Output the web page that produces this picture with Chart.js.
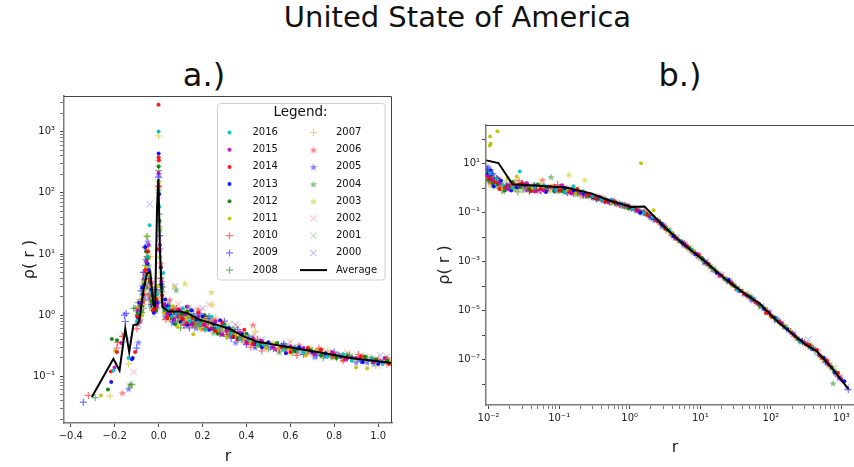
<!DOCTYPE html>
<html>
<head>
<meta charset="utf-8">
<script src="https://cdn.jsdelivr.net/npm/chart.js@4.4.1/dist/chart.umd.min.js"></script>
<style>
  html, body { margin: 0; padding: 0; overflow: hidden; background: #fff; }
  body { width: 854px; height: 467px; position: relative; font-family: 'DejaVu Sans', sans-serif; color: #111; }
  .lbl { position: absolute; white-space: nowrap; transform: translateX(-50%); }
  #title { left: 457.5px; top: 3px; font-size: 29px; line-height: 29px; }
  .sub { top: 59px; font-size: 32px; line-height: 32px; }
  .wrap { position: absolute; top: 0; }
</style>
</head>
<body>
<div id="title" class="lbl">United State of America</div>
<div class="lbl sub" style="left:204px">a.)</div>
<div class="lbl sub" style="left:680px">b.)</div>
<div class="wrap" style="left:0"><canvas id="chartA" width="430" height="467"></canvas></div>
<div class="wrap" style="left:430px"><canvas id="chartB" width="440" height="467"></canvas></div>
<script>
// ---- data: [r, rho(r)] ----
const years = ['2016', '2015', '2014', '2013', '2012', '2011', '2010', '2009', '2008',
               '2007', '2006', '2005', '2004', '2003', '2002', '2001', '2000'];

// a.) linear r
const left2016 = [[-0.205,0.125],[-0.137,0.2],[-0.097,0.8],[-0.085,1.1],[-0.072,1.9],[-0.062,4.2],[-0.05,9],[-0.041,29.5],[-0.03,2.4],[-0.022,1.6],[-0.006,2.2],[0.0,1000],[0.003,60],[0.015,2.5],[0.022,4.9],[0.035,1.2],[0.045,1.3],[0.06,0.95],[0.08,1.1],[0.11,1.3],[0.14,0.8],[0.165,0.95],[0.19,0.72],[0.215,0.58],[0.24,0.95],[0.27,0.62],[0.3,0.66],[0.33,0.5],[0.37,0.41],[0.41,0.4],[0.45,0.33],[0.48,0.33],[0.57,0.27],[0.62,0.3],[0.66,0.25],[0.77,0.21],[0.84,0.23],[0.88,0.18],[0.97,0.2],[1.02,0.16]];
const left2015 = [[-0.201,0.14],[-0.17,0.35],[-0.094,1.2],[-0.078,1.6],[-0.067,4],[-0.055,7.5],[-0.045,14],[-0.036,3.3],[-0.027,2.1],[-0.018,1.5],[-0.008,1.4],[0.0,210],[0.006,14],[0.013,3.5],[0.028,1.5],[0.04,1.05],[0.07,0.85],[0.095,1.2],[0.12,1.05],[0.128,1.38],[0.15,0.72],[0.18,0.95],[0.21,0.7],[0.24,0.6],[0.26,0.8],[0.29,0.48],[0.31,0.55],[0.37,0.52],[0.4,0.36],[0.43,0.42],[0.47,0.38],[0.52,0.3],[0.6,0.31],[0.66,0.29],[0.71,0.23],[0.79,0.25],[0.85,0.19],[0.9,0.2],[0.98,0.17],[1.03,0.2]];
const left2014 = [[-0.217,0.12],[-0.19,0.25],[-0.107,0.25],[-0.098,0.95],[-0.07,2.2],[-0.06,5.5],[-0.048,11],[-0.04,3.8],[-0.027,1.2],[-0.018,1.3],[-0.01,1.8],[-0.004,12],[-0.0005,2760],[0.0,380],[0.001,340],[0.009,6],[0.016,2.1],[0.04,0.9],[0.06,1.2],[0.09,1.25],[0.11,0.85],[0.13,0.75],[0.155,0.9],[0.18,1.1],[0.2,0.7],[0.22,0.62],[0.26,0.55],[0.29,0.75],[0.31,0.6],[0.34,0.45],[0.36,0.4],[0.39,0.58],[0.43,0.34],[0.47,0.36],[0.56,0.3],[0.6,0.25],[0.68,0.29],[0.74,0.27],[0.8,0.23],[0.86,0.2],[0.92,0.21],[0.97,0.19],[1.05,0.16]];
const left2013 = [[-0.216,0.081],[-0.122,0.19],[-0.118,0.2],[-0.093,0.9],[-0.088,1.6],[-0.074,2.8],[-0.061,13],[-0.052,7],[-0.044,5.5],[-0.034,2.6],[-0.022,1.1],[-0.007,1.6],[0.0,440],[0.002,95],[0.01,6],[0.012,3.2],[0.03,1.8],[0.04,1.4],[0.055,1.0],[0.075,1.1],[0.1,0.78],[0.13,0.7],[0.15,1.2],[0.175,0.85],[0.2,0.95],[0.23,0.58],[0.25,0.72],[0.28,0.83],[0.32,0.62],[0.34,0.44],[0.38,0.5],[0.44,0.34],[0.47,0.3],[0.5,0.36],[0.58,0.24],[0.64,0.3],[0.7,0.25],[0.76,0.24],[0.83,0.21],[0.88,0.2],[0.93,0.17],[1.0,0.16]];
const left2012 = [[-0.231,0.061],[-0.213,0.41],[-0.19,0.39],[-0.096,1.1],[-0.082,1.4],[-0.072,2.2],[-0.066,3.2],[-0.057,11],[-0.05,8.5],[-0.04,3.5],[-0.033,1.7],[-0.012,1.2],[0.0,270],[0.004,35],[0.014,2.8],[0.03,1.2],[0.045,1.35],[0.06,0.9],[0.075,0.72],[0.105,1.05],[0.13,1.15],[0.155,0.7],[0.17,0.85],[0.19,0.78],[0.21,1.0],[0.25,0.6],[0.27,0.5],[0.3,0.7],[0.33,0.55],[0.36,0.42],[0.4,0.5],[0.43,0.35],[0.46,0.33],[0.54,0.35],[0.58,0.3],[0.62,0.26],[0.69,0.27],[0.74,0.22],[0.81,0.2],[0.94,0.21],[0.99,0.19],[1.04,0.18]];
const left2011 = [[-0.263,0.049],[-0.198,0.26],[-0.092,1.3],[-0.075,1.0],[-0.066,2.6],[-0.058,6],[-0.048,4.5],[-0.04,2.8],[-0.03,1.9],[-0.015,1.3],[-0.005,3],[0.0,150],[0.007,9],[0.015,1.8],[0.025,1.1],[0.045,0.95],[0.065,1.4],[0.085,0.65],[0.1,1.15],[0.125,0.9],[0.14,1.0],[0.158,0.49],[0.19,0.6],[0.215,0.82],[0.24,0.7],[0.27,0.55],[0.31,0.44],[0.35,0.48],[0.39,0.43],[0.42,0.38],[0.45,0.31],[0.49,0.29],[0.55,0.3],[0.59,0.29],[0.67,0.22],[0.72,0.27],[0.78,0.23],[0.84,0.2],[0.9,0.14],[0.95,0.136],[1.03,0.19]];
const left2010 = [[-0.32,0.049],[-0.19,0.29],[-0.187,0.36],[-0.165,0.45],[-0.099,0.6],[-0.09,0.75],[-0.078,1.4],[-0.068,1.8],[-0.059,4.5],[-0.052,9],[-0.036,2.8],[-0.028,2.0],[-0.013,1.5],[0.0,125],[0.008,4],[0.012,2.4],[0.033,0.85],[0.05,1.1],[0.08,1.3],[0.1,0.95],[0.115,0.68],[0.14,1.15],[0.16,0.75],[0.195,0.78],[0.21,0.95],[0.24,0.7],[0.27,0.58],[0.31,0.48],[0.34,0.52],[0.38,0.4],[0.4,0.35],[0.42,0.3],[0.45,0.4],[0.47,0.26],[0.55,0.27],[0.6,0.28],[0.63,0.22],[0.73,0.29],[0.79,0.21],[0.84,0.18],[0.91,0.23],[1.0,0.19],[1.04,0.16]];
const left2009 = [[-0.343,0.038],[-0.152,0.79],[-0.148,1.07],[-0.156,1.0],[-0.1,0.29],[-0.091,1.0],[-0.08,2.5],[-0.07,5],[-0.061,13],[-0.052,3],[-0.043,4],[-0.033,1.5],[-0.024,1.4],[-0.009,2.6],[0.0,180],[0.005,20],[0.018,1.6],[0.035,1.15],[0.05,1.4],[0.065,0.8],[0.085,0.9],[0.105,1.1],[0.12,0.7],[0.14,0.62],[0.16,1.05],[0.19,0.72],[0.225,0.88],[0.25,0.62],[0.28,0.5],[0.3,0.8],[0.33,0.42],[0.36,0.58],[0.4,0.33],[0.44,0.32],[0.51,0.3],[0.57,0.34],[0.62,0.27],[0.66,0.23],[0.72,0.22],[0.8,0.25],[0.86,0.2],[0.92,0.18],[0.97,0.18],[1.02,0.17]];
const left2008 = [[-0.289,0.045],[-0.122,0.074],[-0.114,1.3],[-0.107,1.3],[-0.094,1.6],[-0.077,1.1],[-0.069,1.3],[-0.06,6.5],[-0.053,19.5],[-0.046,3.8],[-0.036,2.2],[-0.02,2.6],[-0.008,1.3],[0.0,230],[0.003,45],[0.011,3.2],[0.025,1.4],[0.038,1.1],[0.055,0.95],[0.07,1.25],[0.1,0.62],[0.12,1.0],[0.145,0.9],[0.165,0.8],[0.185,0.66],[0.21,0.6],[0.23,0.95],[0.26,0.68],[0.29,0.62],[0.31,0.45],[0.34,0.5],[0.38,0.46],[0.43,0.42],[0.5,0.28],[0.56,0.32],[0.61,0.25],[0.65,0.27],[0.7,0.26],[0.75,0.2],[0.81,0.2],[0.87,0.22],[0.95,0.2],[1.05,0.17]];
const left2007 = [[-0.221,0.048],[-0.137,0.16],[-0.095,0.9],[-0.086,1.8],[-0.072,2.5],[-0.057,3.5],[-0.049,13],[-0.038,9],[-0.031,1.6],[-0.025,1.2],[-0.01,1.9],[0.0,850],[0.004,28],[0.013,2.2],[0.03,1.3],[0.042,1.0],[0.065,1.05],[0.09,0.8],[0.11,0.75],[0.13,1.2],[0.15,0.95],[0.17,0.68],[0.2,0.85],[0.22,0.72],[0.26,0.9],[0.28,0.58],[0.32,0.52],[0.35,0.45],[0.39,0.44],[0.44,0.55],[0.47,0.32],[0.53,0.33],[0.57,0.31],[0.61,0.28],[0.7,0.24],[0.77,0.26],[0.83,0.22],[0.88,0.21],[0.99,0.17],[1.05,0.18]];
const left2006 = [[-0.165,0.054],[-0.097,1.3],[-0.083,0.85],[-0.07,1.7],[-0.064,5],[-0.056,12],[-0.047,2.2],[-0.037,2.9],[-0.032,3.5],[-0.014,1.6],[0.0,130],[0.01,7],[0.017,1.9],[0.03,1.1],[0.05,1.8],[0.07,0.9],[0.095,1.0],[0.12,1.1],[0.14,0.72],[0.16,0.68],[0.18,1.25],[0.2,0.6],[0.22,0.8],[0.25,0.85],[0.29,0.52],[0.33,0.55],[0.35,0.5],[0.37,0.45],[0.41,0.37],[0.43,0.7],[0.48,0.31],[0.53,0.29],[0.58,0.27],[0.64,0.33],[0.69,0.25],[0.74,0.28],[0.84,0.19],[0.93,0.22],[0.98,0.19],[1.04,0.2]];
const left2005 = [[-0.137,0.063],[-0.092,0.36],[-0.089,0.8],[-0.074,3],[-0.067,2.1],[-0.059,8],[-0.05,16],[-0.042,1.9],[-0.031,2.4],[-0.016,1.2],[-0.006,1.7],[0.0,200],[0.006,12],[0.015,2.9],[0.03,0.95],[0.045,1.2],[0.065,0.75],[0.085,1.05],[0.11,0.9],[0.13,1.0],[0.15,0.78],[0.17,0.62],[0.19,1.05],[0.22,0.75],[0.24,0.62],[0.27,0.55],[0.29,0.7],[0.32,0.48],[0.35,0.36],[0.41,0.45],[0.44,0.3],[0.46,0.38],[0.53,0.28],[0.57,0.33],[0.62,0.3],[0.71,0.21],[0.76,0.22],[0.82,0.23],[0.9,0.17],[0.95,0.17],[1.01,0.18]];
const left2004 = [[-0.13,0.074],[-0.092,1.0],[-0.079,1.2],[-0.07,3.8],[-0.063,2.8],[-0.054,9],[-0.045,6.5],[-0.036,1.4],[-0.029,1.6],[-0.011,2.0],[0.0,110],[0.005,25],[0.012,4],[0.025,1.3],[0.04,1.5],[0.06,1.0],[0.08,2.6],[0.09,0.78],[0.105,0.85],[0.135,1.4],[0.15,1.0],[0.175,0.72],[0.2,0.85],[0.235,0.8],[0.25,0.52],[0.27,0.6],[0.31,0.62],[0.34,0.62],[0.37,0.42],[0.4,0.38],[0.45,0.35],[0.49,0.34],[0.55,0.25],[0.63,0.26],[0.67,0.24],[0.72,0.25],[0.79,0.21],[0.86,0.23],[0.92,0.19],[0.98,0.16]];
const left2003 = [[-0.128,0.07],[-0.087,1.1],[-0.072,1.5],[-0.065,3.5],[-0.053,19.5],[-0.047,7],[-0.04,4.5],[-0.03,1.8],[-0.022,2.3],[-0.007,2.5],[0.0,160],[0.008,5],[0.014,1.7],[0.035,1.15],[0.05,0.85],[0.07,3.0],[0.085,1.0],[0.1,1.1],[0.12,3.3],[0.14,0.8],[0.165,0.95],[0.19,0.9],[0.21,0.66],[0.24,2.4],[0.245,1.5],[0.26,0.56],[0.3,0.72],[0.33,0.46],[0.38,0.52],[0.43,0.38],[0.47,0.34],[0.52,0.36],[0.6,0.24],[0.69,0.3],[0.75,0.23],[0.8,0.22],[0.85,0.22],[0.89,0.19],[0.97,0.21],[1.03,0.18]];
const left2002 = [[-0.18,0.35],[-0.114,0.117],[-0.09,1.5],[-0.088,1.0],[-0.073,3],[-0.06,3.0],[-0.051,5.5],[-0.035,1.8],[-0.03,1.4],[-0.012,1.2],[-0.006,1.8],[0.0,90],[0.004,18],[0.017,2.6],[0.03,0.95],[0.05,1.0],[0.07,1.3],[0.09,1.5],[0.11,0.9],[0.13,0.65],[0.16,0.75],[0.19,1.15],[0.21,0.62],[0.23,1.5],[0.25,0.85],[0.28,0.78],[0.31,0.6],[0.33,0.5],[0.36,0.65],[0.4,0.42],[0.44,0.48],[0.48,0.29],[0.56,0.3],[0.6,0.37],[0.68,0.24],[0.72,0.25],[0.77,0.25],[0.86,0.24],[0.95,0.2],[1.0,0.15],[1.05,0.19]];
const left2001 = [[-0.16,0.5],[-0.095,0.9],[-0.077,2.0],[-0.068,1.6],[-0.056,4.8],[-0.048,10],[-0.039,2.5],[-0.028,2.2],[-0.019,1.0],[-0.009,1.4],[0.0,300],[0.006,8],[0.011,2.4],[0.035,1.25],[0.045,1.3],[0.06,1.15],[0.08,0.95],[0.1,0.85],[0.12,0.8],[0.14,1.05],[0.155,1.25],[0.18,0.68],[0.205,0.75],[0.23,0.62],[0.26,0.7],[0.29,0.5],[0.32,0.7],[0.34,0.55],[0.37,0.38],[0.42,0.45],[0.47,0.37],[0.5,0.33],[0.59,0.33],[0.63,0.27],[0.67,0.29],[0.75,0.23],[0.8,0.22],[0.85,0.2],[0.94,0.19],[1.04,0.21]];
const left2000 = [[-0.14,0.4],[-0.093,0.7],[-0.084,1.3],[-0.072,2.0],[-0.065,2.5],[-0.055,5],[-0.041,65],[-0.033,2.0],[-0.026,1.7],[-0.013,1.3],[0.0,140],[0.003,30],[0.016,3.2],[0.03,1.4],[0.045,1.6],[0.06,1.0],[0.075,3.0],[0.11,1.2],[0.13,0.85],[0.16,0.9],[0.18,0.72],[0.2,1.3],[0.22,0.95],[0.25,0.65],[0.27,0.6],[0.3,0.56],[0.32,0.5],[0.35,0.7],[0.39,0.4],[0.43,0.36],[0.47,0.4],[0.52,0.31],[0.57,0.29],[0.64,0.25],[0.69,0.27],[0.73,0.26],[0.83,0.22],[0.87,0.21],[0.92,0.2],[1.01,0.22]];
const leftAverage = [[-0.304,0.046],[-0.206,0.194],[-0.178,0.125],[-0.152,0.61],[-0.134,0.25],[-0.115,0.69],[-0.096,0.71],[-0.087,0.84],[-0.069,2.6],[-0.053,4.8],[-0.038,5.1],[-0.024,1.5],[-0.016,1.4],[-0.007,60],[-0.001,170],[0.006,11.6],[0.017,1.38],[0.045,1.15],[0.098,1.15],[0.129,1.08],[0.19,0.84],[0.281,0.67],[0.327,0.59],[0.387,0.45],[0.448,0.37],[0.569,0.31],[0.722,0.25],[0.874,0.2],[1.063,0.165]];

// b.) log r
const right2016 = [[0.0105,4.2],[0.013,2.3],[0.016,1.3],[0.022,1.0],[0.0277,4.8],[0.045,1.1],[0.06,1.3],[0.09,0.85],[0.12,0.7],[0.16,1.2],[0.22,0.75],[0.3,0.48],[0.4,0.35],[0.55,0.3],[0.75,0.22],[1.1,0.14],[1.6,0.1],[2.1,0.065],[3.6,0.019],[5,0.0075],[7.5,0.0029],[11,0.0011],[15,0.0005],[23,0.00019],[34,7e-5],[55,3.2e-5],[75,1.5e-5],[120,4.5e-6],[160,2.0e-6],[260,5.5e-7],[380,3.0e-7],[800,3.5e-8]];
const right2015 = [[0.0098,3.2],[0.0112,2.2],[0.014,1.6],[0.019,0.9],[0.026,1.3],[0.035,1.6],[0.045,0.75],[0.06,0.8],[0.085,1.05],[0.11,1.3],[0.15,0.6],[0.2,0.65],[0.28,0.55],[0.37,0.45],[0.5,0.26],[0.7,0.22],[0.95,0.19],[1.3,0.12],[1.9,0.07],[2.5,0.045],[4.5,0.009],[6.2,0.0045],[9,0.0021],[13,0.0008],[19,0.00028],[28,0.00012],[45,4.2e-5],[65,2e-5],[95,8e-6],[140,3e-6],[210,1.1e-6],[320,4.2e-7],[480,1.6e-7],[650,6.5e-8],[1000,1.5e-8]];
const right2014 = [[0.0102,2.6],[0.0125,1.8],[0.0142,0.93],[0.017,1.1],[0.022,1.5],[0.03,1.6],[0.04,0.75],[0.055,0.95],[0.075,1.15],[0.1,0.8],[0.14,0.7],[0.18,0.9],[0.25,0.55],[0.33,0.42],[0.45,0.28],[0.6,0.27],[0.9,0.2],[1.25,0.13],[1.7,0.09],[2.4,0.05],[3.2,0.022],[4.8,0.008],[6.5,0.0042],[9.5,0.0019],[13,0.0008],[20,0.00027],[28,0.00013],[42,5e-5],[62,2.2e-5],[85,8e-6],[100,6e-6],[130,3.5e-6],[220,9e-7],[355,4e-7],[450,2.5e-7],[530,1.2e-7],[620,9e-8],[890,2.9e-8]];
const right2013 = [[0.0098,3.5],[0.0107,5],[0.0118,1.2],[0.015,2.0],[0.021,0.8],[0.025,1.1],[0.033,1.3],[0.045,1.2],[0.065,0.7],[0.09,0.9],[0.12,1.0],[0.16,0.8],[0.22,0.62],[0.3,0.45],[0.4,0.35],[0.55,0.32],[0.75,0.23],[1.05,0.16],[1.4,0.1],[2.1,0.06],[2.8,0.035],[4.2,0.011],[5.5,0.0062],[8.5,0.0021],[11,0.0012],[17,0.00036],[25,0.00018],[36,6.5e-5],[52,3.5e-5],[80,1.2e-5],[115,5e-6],[170,1.8e-6],[260,6e-7],[380,2.8e-7],[560,1.2e-7],[800,3e-8],[1100,1.3e-8]];
const right2012 = [[0.0099,2.2],[0.0115,1.6],[0.0135,1.4],[0.017,0.8],[0.022,1.8],[0.028,1.1],[0.038,0.9],[0.05,1.4],[0.065,1.15],[0.085,0.75],[0.11,0.75],[0.15,0.95],[0.2,0.7],[0.27,0.48],[0.36,0.36],[0.48,0.33],[0.65,0.25],[0.95,0.15],[1.3,0.12],[1.8,0.08],[2.6,0.045],[3.4,0.02],[5.2,0.0068],[7,0.0035],[10.5,0.0014],[14,0.0006],[22,0.0002],[30,0.000105],[47,4.2e-5],[68,1.8e-5],[105,5.5e-6],[140,3e-6],[240,7e-7],[350,3.5e-7],[500,1.4e-7],[720,5e-8]];
const right2011 = [[0.0105,129],[0.0107,65],[0.0104,55],[0.0134,210],[0.0112,1.5],[0.016,1.0],[0.0185,2.6],[0.025,3.0],[0.024,0.9],[0.033,1.3],[0.042,1.0],[0.06,0.95],[0.08,1.2],[0.1,1.05],[0.13,0.8],[0.17,0.6],[0.23,0.6],[0.3,0.52],[0.42,0.34],[0.55,0.26],[0.8,0.21],[1.0,0.15],[1.45,10.5],[1.8,0.085],[2.18,0.126],[3.8,0.016],[4.6,0.0095],[8,0.0024],[10,0.0015],[17,0.00038],[22,0.00022],[38,6e-5],[50,3.6e-5],[85,1.1e-5],[110,5.2e-6],[180,1.6e-6],[250,6.2e-7],[420,2.5e-7],[560,1e-7],[900,2.5e-8]];
const right2010 = [[0.0102,2.8],[0.0115,2.0],[0.015,1.1],[0.02,1.4],[0.027,2.0],[0.035,1.1],[0.048,0.9],[0.065,0.8],[0.095,1.4],[0.13,0.95],[0.18,0.75],[0.24,0.55],[0.33,0.4],[0.42,0.38],[0.6,0.3],[0.8,0.2],[1.2,0.13],[1.6,0.11],[2.3,0.055],[3.0,0.03],[4.2,0.011],[6,0.0052],[8.5,0.0022],[12,0.0009],[18,0.0003],[27,0.00014],[40,5.5e-5],[60,2.4e-5],[88,1e-5],[135,3.4e-6],[190,1.4e-6],[300,5e-7],[400,2.8e-7],[650,7e-8],[880,2.2e-8]];
const right2009 = [[0.0097,6],[0.0105,3.3],[0.0108,4],[0.013,2.5],[0.018,1.2],[0.024,1.0],[0.03,1.5],[0.038,0.75],[0.055,0.8],[0.07,1.05],[0.1,0.9],[0.13,0.65],[0.18,0.8],[0.24,0.52],[0.34,0.36],[0.44,0.3],[0.62,0.25],[0.85,0.19],[1.2,0.14],[1.6,0.1],[2.2,0.055],[3.1,0.026],[4.4,0.01],[6.2,0.0045],[9,0.0018],[12.5,0.00085],[19,0.00029],[26,0.00016],[40,5.5e-5],[58,2.6e-5],[90,9.5e-6],[125,4e-6],[200,1.2e-6],[280,5.5e-7],[420,2.4e-7],[600,8e-8],[900,2e-8],[1250,6e-9]];
const right2008 = [[0.0098,4.2],[0.0101,3.0],[0.012,2.2],[0.0145,1.6],[0.02,1.0],[0.026,0.7],[0.034,1.4],[0.044,1.25],[0.06,0.95],[0.085,0.9],[0.12,0.85],[0.16,0.6],[0.22,0.58],[0.29,0.45],[0.4,0.36],[0.52,0.26],[0.72,0.22],[1.0,0.17],[1.4,0.12],[1.9,0.075],[2.7,0.04],[3.7,0.017],[5.5,0.006],[7.2,0.0033],[11,0.0011],[14.5,0.00055],[24,0.00017],[32,9e-5],[50,3.3e-5],[70,1.6e-5],[112,5e-6],[150,2.5e-6],[250,6.5e-7],[340,3.8e-7],[560,1.1e-7],[750,4e-8]];
const right2007 = [[0.0103,2.6],[0.0112,1.2],[0.0135,1.5],[0.018,2.0],[0.024,1.3],[0.03,0.85],[0.04,0.9],[0.055,1.5],[0.075,1.1],[0.1,0.8],[0.14,0.65],[0.19,0.9],[0.26,0.5],[0.35,0.38],[0.45,0.33],[0.62,0.26],[0.85,0.18],[1.15,0.15],[1.7,0.095],[2.2,0.06],[3.3,0.023],[4.0,0.012],[6.5,0.004],[8.2,0.0023],[13,0.0008],[16.5,0.00044],[27,0.00013],[36,7.5e-5],[58,2.6e-5],[78,1.4e-5],[125,4e-6],[170,1.9e-6],[280,5e-7],[390,3.2e-7],[600,8e-8],[850,3e-8]];
const right2006 = [[0.0098,3.8],[0.0106,1.7],[0.0125,2.0],[0.0135,2.6],[0.018,1.4],[0.023,1.2],[0.03,1.6],[0.036,0.9],[0.05,0.85],[0.058,2.2],[0.085,1.25],[0.11,0.95],[0.16,0.7],[0.21,0.5],[0.3,0.44],[0.38,0.38],[0.52,0.3],[0.68,0.22],[1.0,0.17],[1.35,0.12],[1.9,0.08],[2.6,0.04],[3.8,0.015],[5,0.0075],[7.5,0.0029],[10,0.0015],[15,0.0005],[22,0.00021],[32,9e-5],[48,4e-5],[70,1.7e-5],[105,6e-6],[155,2.4e-6],[230,8e-7],[330,4e-7],[520,1.3e-7],[720,5e-8],[980,1.8e-8]];
const right2005 = [[0.0096,4.5],[0.0099,7.5],[0.0108,5.5],[0.0115,3.8],[0.0135,2.4],[0.019,1.4],[0.025,1.2],[0.032,0.9],[0.045,1.4],[0.062,1.2],[0.09,0.8],[0.12,0.72],[0.17,0.7],[0.23,0.55],[0.32,0.42],[0.42,0.32],[0.58,0.28],[0.78,0.2],[1.1,0.15],[1.5,0.11],[2.1,0.06],[2.9,0.03],[4.1,0.012],[5.8,0.0055],[8,0.0024],[11.5,0.001],[16,0.00045],[24,0.00019],[35,7e-5],[54,3e-5],[78,1.3e-5],[118,4.5e-6],[175,1.7e-6],[270,5.8e-7],[390,3e-7],[580,1e-7],[820,3e-8]];
const right2004 = [[0.0103,1.9],[0.0112,2.6],[0.0125,1.2],[0.016,0.75],[0.021,1.1],[0.029,1.5],[0.037,1.15],[0.047,0.85],[0.065,0.9],[0.0766,2.9],[0.1,1.1],[0.13,0.75],[0.18,0.58],[0.25,0.5],[0.32,0.42],[0.45,0.34],[0.58,0.28],[0.82,0.2],[1.1,0.16],[1.6,0.1],[2.0,0.07],[3.1,0.026],[3.9,0.015],[6.1,0.0046],[7.8,0.0027],[12,0.0009],[15.5,0.0005],[25,0.00016],[33,8.5e-5],[56,2.8e-5],[72,1.6e-5],[120,4.2e-6],[155,2.3e-6],[270,5.6e-7],[360,3.6e-7],[620,8.5e-8],[760,1.1e-8]];
const right2003 = [[0.0098,3.5],[0.011,2.4],[0.0128,2.8],[0.0155,1.3],[0.02,1.1],[0.0245,2.1],[0.032,1.25],[0.04,0.95],[0.055,1.1],[0.07,0.85],[0.1,0.75],[0.138,3.6],[0.15,0.8],[0.19,0.7],[0.23,2.2],[0.28,0.5],[0.36,0.4],[0.5,0.3],[0.7,0.24],[0.92,0.18],[1.3,0.13],[1.75,0.085],[2.5,0.046],[3.3,0.024],[5,0.0072],[6.8,0.0038],[10,0.0016],[13.5,0.00072],[21,0.00024],[29,0.00012],[45,4.8e-5],[52,4.4e-5],[98,7e-6],[135,3.3e-6],[220,9.5e-7],[310,4.8e-7],[480,1.6e-7],[680,6e-8]];
const right2002 = [[0.0102,3.3],[0.0108,2.0],[0.013,1.4],[0.0165,1.0],[0.022,1.4],[0.03,1.4],[0.04,1.1],[0.052,0.7],[0.07,0.9],[0.09,1.05],[0.13,1.0],[0.17,0.85],[0.24,0.55],[0.31,0.46],[0.42,0.36],[0.56,0.27],[0.78,0.21],[1.05,0.15],[1.5,0.11],[2.0,0.065],[2.9,0.031],[3.5,0.02],[5.6,0.0058],[7.3,0.0032],[11.5,0.001],[15,0.00052],[24,0.00018],[33,8e-5],[52,3.2e-5],[73,1.5e-5],[115,4.8e-6],[160,2.2e-6],[260,6e-7],[370,3.3e-7],[580,1e-7],[780,4.5e-8]];
const right2001 = [[0.0099,2.2],[0.0113,1.4],[0.0145,1.7],[0.02,1.2],[0.025,1.0],[0.034,0.8],[0.045,1.3],[0.058,1.1],[0.08,0.8],[0.105,0.9],[0.15,0.75],[0.2,0.6],[0.27,0.5],[0.36,0.4],[0.5,0.3],[0.65,0.24],[0.9,0.19],[1.25,0.13],[1.8,0.085],[2.4,0.05],[3.6,0.018],[4.4,0.0095],[7,0.0036],[9.2,0.0019],[14,0.00062],[19,0.00029],[29,0.00011],[42,5e-5],[64,2e-5],[92,9e-6],[140,3e-6],[200,1.3e-6],[310,4.5e-7],[450,2e-7],[680,6e-8],[950,2e-8]];
const right2000 = [[0.0099,5],[0.0115,3.0],[0.0125,2.2],[0.016,1.5],[0.021,1.7],[0.028,1.25],[0.037,1.1],[0.05,0.8],[0.066,0.95],[0.095,1.1],[0.125,0.85],[0.18,0.62],[0.24,0.48],[0.33,0.45],[0.43,0.33],[0.6,0.26],[0.8,0.21],[1.15,0.15],[1.55,0.1],[2.3,0.052],[3.0,0.028],[4.6,0.0095],[6,0.005],[9.5,0.0017],[12,0.00095],[20,0.00028],[26,0.00016],[44,4.6e-5],[57,2.7e-5],[95,8e-6],[122,4e-6],[210,1.1e-6],[340,6.6e-7],[470,1.8e-7],[620,8e-8],[950,1.8e-8],[1200,8e-9]];
const rightAverage = [[0.0093,13.6],[0.0138,10.6],[0.0219,1.44],[0.0382,1.31],[0.124,1.06],[0.291,0.6],[0.498,0.32],[1.05,0.172],[1.62,0.18],[2.76,0.036],[5.24,0.0065],[11.1,0.00115],[23.5,0.00018],[44.7,4.4e-5],[68.4,2.0e-5],[130,3.2e-6],[307,4.2e-7],[447,2.2e-7],[760,4e-8],[1254,6.3e-9]];

const leftSeries = [left2016, left2015, left2014, left2013, left2012, left2011, left2010, left2009, left2008,
                    left2007, left2006, left2005, left2004, left2003, left2002, left2001, left2000];
const rightSeries = [right2016, right2015, right2014, right2013, right2012, right2011, right2010, right2009, right2008,
                     right2007, right2006, right2005, right2004, right2003, right2002, right2001, right2000];

const leftXTicks = [-0.4, -0.2, 0.0, 0.2, 0.4, 0.6, 0.8, 1.0];

// ---- styles (matplotlib single-letter colours and markers) ----
const rgb = { c: '0,191,191', m: '191,0,191', r: '255,0,0', b: '0,0,255', g: '0,128,0', y: '191,191,0' };
const yearColour = ['c', 'm', 'r', 'b', 'g', 'y', 'r', 'b', 'g', 'y', 'r', 'b', 'g', 'y', 'r', 'g', 'b'];
const yearMarker = ['dot', 'dot', 'dot', 'dot', 'dot', 'dot', 'plus', 'plus', 'plus',
                    'plus', 'star', 'star', 'star', 'star', 'x', 'x', 'x'];
const markerAlpha = { dot: 0.9, plus: 0.55, star: 0.5, x: 0.22 };

Chart.defaults.font.family = "'DejaVu Sans', sans-serif";
Chart.defaults.color = '#222';

function starImage(colour, size) {
  const c = document.createElement('canvas');
  c.width = c.height = size;
  const g = c.getContext('2d');
  const R = size / 2, r = R * 0.4;
  g.fillStyle = colour;
  g.beginPath();
  for (let i = 0; i < 10; i++) {
    const a = -Math.PI / 2 + i * Math.PI / 5;
    const rr = i % 2 ? r : R;
    g.lineTo(R + rr * Math.cos(a), R + 0.5 + rr * Math.sin(a));
  }
  g.closePath();
  g.fill();
  return c;
}

function markerStyle(kind, col) {
  const colour = 'rgba(' + rgb[col] + ',' + markerAlpha[kind] + ')';
  const base = { marker: kind, pointBackgroundColor: colour, pointBorderColor: colour,
                 backgroundColor: colour, borderColor: colour };
  if (kind === 'dot') return Object.assign(base, { pointStyle: 'circle', pointRadius: 2, pointBorderWidth: 0 });
  if (kind === 'plus') return Object.assign(base, { pointStyle: 'cross', pointRadius: 3.5, pointBorderWidth: 1.2 });
  if (kind === 'x') return Object.assign(base, { pointStyle: 'crossRot', pointRadius: 4.5, pointBorderWidth: 1.2 });
  return Object.assign(base, { pointStyle: starImage(colour, 8), pointRadius: 4, pointBorderWidth: 0 });
}

function buildDatasets(series, average) {
  const sets = years.map((year, i) => Object.assign({
    label: year,
    data: series[i].map(p => ({ x: p[0], y: p[1] })),
    showLine: false
  }, markerStyle(yearMarker[i], yearColour[i])));
  sets.push({
    label: 'Average',
    data: average.map(p => ({ x: p[0], y: p[1] })),
    showLine: true, borderColor: '#000', backgroundColor: '#000', borderWidth: 2,
    pointRadius: 0, tension: 0, order: -1
  });
  return sets;
}

const sup = { '0': '⁰', '1': '¹', '2': '²', '3': '³', '4': '⁴', '5': '⁵', '6': '⁶', '7': '⁷', '8': '⁸', '9': '⁹', '-': '⁻' };
function pow10Label(e) {
  return '10' + String(e).split('').map(ch => sup[ch]).join('');
}

function logTicks(lo, hi, minors) {
  const out = [];
  for (let e = Math.floor(Math.log10(lo)); e <= Math.ceil(Math.log10(hi)); e++) {
    for (const m of minors) {
      const v = m * Math.pow(10, e);
      if (v >= lo && v <= hi) out.push({ value: v, major: m === 1, exp: e });
    }
  }
  return out;
}

const tickFont = { size: 10 };
const titleFont = { size: 16 };
const grid = { drawOnChartArea: false, tickLength: 4, tickColor: '#444',
               tickWidth: c => (c.tick && c.tick.major === false ? 0.7 : 1) };
const border = { color: '#7a7a7a', width: 1.5 };

// box lines on top / right of the axes
const frame = {
  id: 'frame',
  afterDatasetsDraw(chart) {
    const { left, right, top, bottom } = chart.chartArea;
    const ctx = chart.ctx;
    ctx.save();
    ctx.strokeStyle = '#444';
    ctx.lineWidth = 1;
    ctx.beginPath();
    ctx.moveTo(left, top + 0.5);
    ctx.lineTo(right - 0.5, top + 0.5);
    ctx.lineTo(right - 0.5, bottom);
    ctx.stroke();
    ctx.restore();
  }
};

function drawMarker(ctx, ds, x, y) {
  const r = ds.pointRadius;
  ctx.save();
  ctx.fillStyle = ds.pointBackgroundColor;
  ctx.strokeStyle = ds.pointBorderColor;
  ctx.lineWidth = ds.pointBorderWidth;
  ctx.beginPath();
  if (ds.marker === 'dot') {
    ctx.arc(x, y, r, 0, 2 * Math.PI);
    ctx.fill();
  } else if (ds.marker === 'plus') {
    ctx.moveTo(x - r, y); ctx.lineTo(x + r, y);
    ctx.moveTo(x, y - r); ctx.lineTo(x, y + r);
    ctx.stroke();
  } else if (ds.marker === 'x') {
    const d = r * Math.SQRT1_2;
    ctx.moveTo(x - d, y - d); ctx.lineTo(x + d, y + d);
    ctx.moveTo(x - d, y + d); ctx.lineTo(x + d, y - d);
    ctx.stroke();
  } else {
    const img = ds.pointStyle;
    ctx.drawImage(img, x - img.width / 2, y - img.height / 2);
  }
  ctx.restore();
}

// matplotlib-style legend: two columns filled top to bottom
const boxLegend = {
  id: 'boxLegend',
  afterDraw(chart) {
    const ctx = chart.ctx;
    ctx.save();
    ctx.beginPath();
    if (ctx.roundRect) ctx.roundRect(217.5, 103.5, 167.5, 176.5, 3);
    else ctx.rect(217.5, 103.5, 167.5, 176.5);
    ctx.fillStyle = 'rgba(255,255,255,0.8)';
    ctx.fill();
    ctx.strokeStyle = '#d0d0d0';
    ctx.lineWidth = 1;
    ctx.stroke();
    ctx.fillStyle = '#111';
    ctx.font = "13.5px 'DejaVu Sans'";
    ctx.textAlign = 'center';
    ctx.textBaseline = 'middle';
    ctx.fillText('Legend:', 300.5, 112.5);
    ctx.font = "10px 'DejaVu Sans'";
    ctx.textAlign = 'left';
    chart.data.datasets.forEach((ds, i) => {
      const col = Math.floor(i / 9), row = i % 9;
      const y = 132.5 + row * 17.2;
      if (ds.showLine) {
        ctx.strokeStyle = '#000';
        ctx.lineWidth = 2;
        ctx.beginPath();
        ctx.moveTo(300, y);
        ctx.lineTo(327, y);
        ctx.stroke();
      } else {
        drawMarker(ctx, ds, col ? 313.5 : 229.5, y);
      }
      ctx.fillStyle = '#111';
      ctx.fillText(ds.label, col ? 336 : 252.5, y);
    });
    ctx.restore();
  }
};

// ---- a.) ----
const aYTicks = logTicks(0.01733, 3820, [1, 2, 3, 4, 5, 6, 7, 8, 9]);
new Chart(document.getElementById('chartA'), {
  type: 'scatter',
  data: { datasets: buildDatasets(leftSeries, leftAverage) },
  options: {
    responsive: false, animation: false, events: [],
    layout: { padding: { left: 0, top: 96, right: 38, bottom: 0 } },
    plugins: { legend: { display: false }, tooltip: { enabled: false } },
    scales: {
      x: {
        type: 'linear', min: -0.431, max: 1.063,
        afterBuildTicks: s => { s.ticks = leftXTicks.map(v => ({ value: v })); },
        afterFit: s => { s.height = 44; },
        ticks: { autoSkip: false, maxRotation: 0, padding: 3, font: tickFont, color: '#222',
                 callback: v => v.toFixed(1).replace('-', '\u2212') },
        grid: grid, border: border,
        title: { display: true, text: 'r', font: titleFont, color: '#222', padding: { top: 0, bottom: 0.4 } }
      },
      y: {
        type: 'logarithmic', min: 0.01733, max: 3820,
        afterBuildTicks: s => { s.ticks = aYTicks.map(t => Object.assign({}, t)); },
        afterFit: s => { s.width = 64; },
        ticks: { autoSkip: false, padding: 5, font: tickFont, color: '#222',
                 callback: (v, i, ticks) => (ticks[i].major ? pow10Label(ticks[i].exp) : '') },
        grid: grid, border: border,
        title: { display: true, text: 'ρ( r )', font: titleFont, color: '#222', padding: { top: 20.4, bottom: 0 } }
      }
    }
  },
  plugins: [frame, boxLegend]
});

// ---- b.) ----
const bXTicks = logTicks(0.0092, 2105, [1, 2, 3, 4, 5, 6, 7, 8, 9]);
const bYTicks = logTicks(1.41e-9, 378, [1]);
new Chart(document.getElementById('chartB'), {
  type: 'scatter',
  data: { datasets: buildDatasets(rightSeries, rightAverage) },
  options: {
    responsive: false, animation: false, events: [],
    layout: { padding: { left: 0, top: 125, right: 0, bottom: 0 } },
    plugins: { legend: { display: false }, tooltip: { enabled: false } },
    scales: {
      x: {
        type: 'logarithmic', min: 0.0092, max: 2105,
        afterBuildTicks: s => { s.ticks = bXTicks.map(t => Object.assign({}, t)); },
        afterFit: s => { s.height = 62; },
        ticks: { autoSkip: false, maxRotation: 0, padding: 3, font: tickFont, color: '#222',
                 callback: (v, i, ticks) => (ticks[i].major ? pow10Label(ticks[i].exp) : '') },
        grid: grid, border: border,
        title: { display: true, text: 'r', font: titleFont, color: '#222', padding: { top: 0, bottom: 9.4 } }
      },
      y: {
        type: 'logarithmic', min: 1.41e-9, max: 378,
        afterBuildTicks: s => { s.ticks = bYTicks.map(t => Object.assign({}, t)); },
        afterFit: s => { s.width = 56; },
        ticks: { autoSkip: false, padding: 2, font: tickFont, color: '#222',
                 callback: (v, i, ticks) => (Math.abs(ticks[i].exp % 2) === 1 ? pow10Label(ticks[i].exp) : '') },
        grid: grid, border: border,
        title: { display: true, text: 'ρ( r )', font: titleFont, color: '#222', padding: { top: 5.4, bottom: 0 } }
      }
    }
  },
  plugins: [frame]
});
</script>
</body>
</html>
